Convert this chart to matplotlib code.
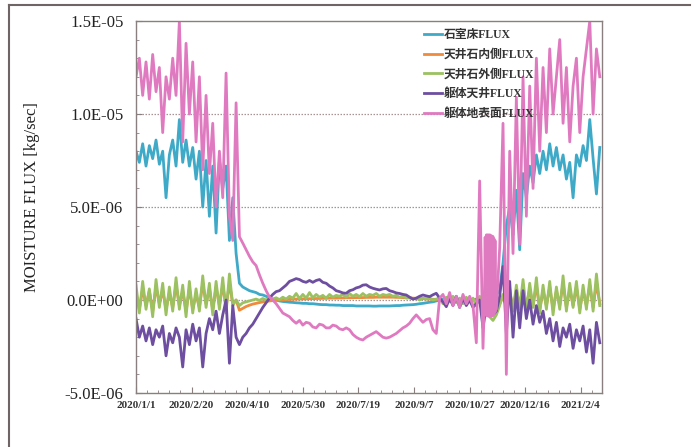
import numpy as np
import pandas as pd
import matplotlib
matplotlib.use("Agg")
import matplotlib.pyplot as plt
import matplotlib.dates as mdates
from matplotlib.lines import Line2D

# ---- data (moisture flux, unit 1E-06 kg/sec, sampled every 3 days from 2020/1/1) ----
start = pd.Timestamp("2020-01-01")
day_offsets = np.arange(0, 420, 3)
end_day = 419

floor_flux = [  # 石室床FLUX
    8.0, 7.4, 8.4, 7.2, 8.3, 7.6, 8.6, 7.3, 8.0, 5.5,
    7.8, 8.6, 7.2, 9.7, 7.4, 8.6, 7.2, 8.2, 6.5, 8.0,
    5.0, 7.5, 4.5, 7.2, 3.6, 7.5, 6.0, 7.2, 3.2, 5.5,
    2.5, 0.9, 0.7, 0.6, 0.5, 0.45, 0.4, 0.3, 0.27, 0.2,
    0.12, 0.05, 0.0, -0.05, -0.08, -0.1, -0.12, -0.13, -0.15, -0.16,
    -0.18, -0.18, -0.2, -0.2, -0.22, -0.24, -0.25, -0.25, -0.27, -0.27,
    -0.28, -0.28, -0.3, -0.3, -0.3, -0.3, -0.32, -0.32, -0.32, -0.32,
    -0.32, -0.33, -0.33, -0.32, -0.32, -0.32, -0.32, -0.31, -0.3, -0.3,
    -0.28, -0.27, -0.26, -0.25, -0.23, -0.2, -0.18, -0.15, -0.12, -0.1,
    -0.05, 0.0, 0.05, -0.05, 0.0, 0.05, -0.05, 0.0, 0.05, 0.0,
    -0.05, 0.0, 0.05, 0.0, -0.05, 0.0, 0.1, 0.0, 0.3, 0.5,
    2.0, 4.0, 5.0, 3.5, 5.9, 2.7, 6.8, 5.5, 7.2, 6.3,
    7.8, 6.8, 8.0, 7.0, 8.4, 7.2, 8.2, 7.0, 7.8, 6.5,
    7.4, 5.5, 7.8, 7.2, 8.3, 7.5, 9.7, 7.6, 5.7, 8.2,
]

ceiling_inner_flux = [  # 天井石内側FLUX
    0.4, -0.5, 0.6, -0.3, 0.5, -0.6, 0.7, -0.2, 0.5, -0.5,
    0.4, -0.4, 0.8, -0.3, 0.5, -0.6, 0.6, -0.5, 0.3, -0.4,
    0.9, -0.2, 0.6, -0.5, 0.7, -0.3, 0.8, -0.4, 0.9, -0.2,
    0.0, -0.55, -0.45, -0.35, -0.28, -0.22, -0.18, -0.14, -0.1, -0.08,
    -0.05, -0.03, -0.02, 0.0, 0.01, 0.02, 0.03, 0.04, 0.05, 0.05,
    0.06, 0.06, 0.07, 0.07, 0.08, 0.08, 0.09, 0.09, 0.1, 0.1,
    0.1, 0.11, 0.11, 0.12, 0.12, 0.12, 0.13, 0.13, 0.13, 0.14,
    0.14, 0.14, 0.15, 0.15, 0.15, 0.15, 0.15, 0.15, 0.14, 0.14,
    0.13, 0.12, 0.11, 0.1, 0.09, 0.08, 0.07, 0.06, 0.05, 0.04,
    0.03, 0.05, -0.05, 0.05, -0.05, 0.05, -0.05, 0.05, -0.05, 0.05,
    -0.05, 0.05, -0.1, 0.1, -0.2, -0.3, -0.4, -0.5, -0.4, -0.2,
    0.2, -0.3, 0.4, -0.4, 0.5, -0.3, 0.7, -0.4, 0.6, -0.3,
    0.8, -0.5, 0.5, -0.3, 0.7, -0.5, 0.5, -0.3, 0.9, -0.4,
    0.6, -0.3, 0.7, -0.5, 0.5, -0.3, 0.8, -0.4, 0.9, -0.2,
]

ceiling_outer_flux = [  # 天井石外側FLUX
    0.8, -0.7, 1.0, -0.5, 0.6, -0.9, 1.1, -0.4, 0.9, -0.8,
    0.7, -0.6, 1.2, -0.5, 0.8, -0.9, 1.0, -0.7, 0.6, -0.6,
    1.3, -0.4, 0.9, -0.8, 1.0, -0.5, 1.2, -0.7, 1.4, -0.3,
    0.0, -0.3, -0.15, -0.1, -0.05, 0.0, 0.05, -0.02, 0.08, 0.0,
    0.1, 0.05, 0.12, 0.02, 0.15, 0.05, 0.2, 0.1, 0.35, 0.08,
    0.3, 0.1, 0.4, 0.12, 0.3, 0.15, 0.25, 0.1, 0.3, 0.15,
    0.25, 0.2, 0.3, 0.15, 0.35, 0.2, 0.3, 0.18, 0.35, 0.2,
    0.3, 0.25, 0.35, 0.2, 0.3, 0.25, 0.3, 0.2, 0.25, 0.15,
    0.2, 0.1, 0.15, 0.05, 0.1, 0.0, 0.1, 0.05, 0.1, 0.0,
    0.05, 0.1, -0.2, 0.15, -0.1, 0.2, -0.15, 0.1, -0.2, 0.15,
    -0.1, 0.1, -0.3, 0.2, -0.4, -0.6, -0.9, -1.1, -0.8, -0.3,
    0.3, -0.4, 0.6, -0.6, 0.8, -0.5, 1.1, -0.6, 0.9, -0.4,
    1.2, -0.7, 0.8, -0.5, 1.0, -0.8, 0.7, -0.5, 1.3, -0.6,
    0.9, -0.4, 1.0, -0.7, 0.8, -0.5, 1.1, -0.6, 1.4, -0.3,
]

body_ceiling_flux = [  # 躯体天井FLUX
    -1.0, -2.0, -1.4, -2.2, -1.5, -2.4, -1.6, -2.0, -1.4, -3.0,
    -1.8, -2.3, -1.5, -2.0, -3.6, -1.6, -2.4, -1.3, -2.2, -1.5,
    -3.6, -1.8, -1.0, -1.6, -0.6, -1.8, -0.8, 0.0, -3.4, -0.3,
    -2.0, -2.4, -2.0, -1.8, -1.5, -1.3, -1.0, -0.7, -0.4, -0.15,
    0.1, 0.3, 0.45, 0.5, 0.65, 0.8, 1.0, 1.07, 1.15, 1.1,
    1.0, 0.95, 1.05, 0.95, 1.05, 1.1, 0.95, 0.9, 0.75, 0.65,
    0.5, 0.45, 0.38, 0.36, 0.5, 0.55, 0.65, 0.7, 0.8, 0.82,
    0.7, 0.63, 0.58, 0.54, 0.6, 0.62, 0.5, 0.45, 0.38, 0.35,
    0.3, 0.27, 0.15, 0.05, 0.1, 0.2, 0.27, 0.22, 0.18, 0.28,
    0.36, 0.1, -0.1, -0.36, 0.1, -0.3, 0.2, -0.4, 0.1, -0.3,
    0.0, -0.4, -0.2, 0.0, -1.5, -0.3, -0.5, -0.8, -0.6, 0.2,
    1.8, -1.8, 1.0, -2.0, 0.5, -1.5, 0.5, -1.0, 0.0, -1.3,
    -0.3, -1.2, -0.6, -1.8, -1.0, -2.2, -1.2, -2.5, -1.5, -2.0,
    -1.3, -2.6, -1.6, -2.2, -1.4, -2.8, -1.6, -3.4, -1.2, -2.3,
]

body_ground_flux = [  # 躯体地表面FLUX
    12.0, 13.0, 11.0, 12.8, 10.8, 13.2, 11.2, 12.5, 9.0, 12.0,
    10.8, 13.0, 11.0, 15.0, 8.5, 13.8, 10.0, 12.8, 8.5, 12.0,
    7.0, 11.0, 6.8, 9.5, 5.0, 8.0, 5.5, 12.2, 4.5, 3.2,
    10.6, 3.4, 3.06, 2.7, 2.35, 2.05, 1.85, 1.35, 0.9, 0.5,
    0.16, 0.0, -0.2, -0.45, -0.7, -0.8, -0.9, -1.1, -1.25, -1.1,
    -1.35, -1.2, -1.25, -1.45, -1.5, -1.3, -1.35, -1.5, -1.5, -1.35,
    -1.4, -1.55, -1.6, -1.5, -1.6, -1.85, -2.0, -2.1, -2.15, -2.0,
    -1.9, -1.8, -1.7, -1.85, -2.0, -2.05, -2.0, -1.9, -1.8, -1.65,
    -1.5, -1.4, -1.25, -1.0, -0.8, -1.0, -1.2, -1.05, -1.0, -1.6,
    -1.8, 0.1, 0.3, -0.2, 0.4, -0.3, 0.2, -0.4, 0.3, -0.2,
    0.2, -0.3, -2.3, 6.4, -2.6, 3.5, -0.9, 3.4, -0.5, 2.8,
    9.5, -4.0, 8.0, 2.5, 10.9, 3.0, 12.0, 4.5, 11.5, 6.0,
    13.0, 8.0, 12.5, 9.0, 13.5, 10.0, 12.0, 14.0, 9.5, 12.5,
    8.5, 11.5, 13.0, 9.0, 12.0, 13.5, 15.0, 10.0, 13.5, 12.0,
]

# rapid oscillation of 躯体地表面FLUX in November: upper / lower envelope
burst_days = [312, 315, 318, 321, 324]
burst_top = [3.4, 3.6, 3.6, 3.5, 3.2]
burst_bottom = [-0.8, -0.9, -0.9, -0.9, -0.6]

series_labels = ["石室床FLUX", "天井石内側FLUX", "天井石外側FLUX", "躯体天井FLUX", "躯体地表面FLUX"]
series_values = [floor_flux, ceiling_inner_flux, ceiling_outer_flux, body_ceiling_flux, body_ground_flux]
series_colors = ["#3fa9c8", "#f08a3c", "#9cc160", "#6e4ea0", "#e07ac0"]

xtick_days = [0, 50, 100, 150, 200, 250, 300, 350, 400]
xtick_labels = ["2020/1/1", "2020/2/20", "2020/4/10", "2020/5/30", "2020/7/19",
                "2020/9/7", "2020/10/27", "2020/12/16", "2021/2/4"]
ytick_values = [-5e-6, 0.0, 5e-6, 1e-5, 1.5e-5]
ytick_labels = ["-5.0E-06", "0.0E+00", "5.0E-06", "1.0E-05", "1.5E-05"]

UNIT = 1e-6

# ---- figure ----
W, H = 698, 447
fig = plt.figure(figsize=(W / 100, H / 100), dpi=100)
ax = fig.add_axes([136 / W, 1 - 393 / H, (602 - 136) / W, (393 - 21) / H])

to_date = lambda d: mdates.date2num(start + pd.to_timedelta(np.asarray(d), unit="D"))
x = to_date(day_offsets)

serif = ["Liberation Serif", "Noto Sans CJK JP", "DejaVu Sans"]

ax.fill_between(to_date(burst_days), np.array(burst_bottom) * UNIT, np.array(burst_top) * UNIT,
                color=series_colors[4], lw=0, zorder=2.5)
for k, (lab, vals, col) in enumerate(zip(series_labels, series_values, series_colors)):
    ax.plot(x, np.array(vals) * UNIT, color=col, lw=2.0, label=lab, zorder=2 + k * 0.1)

ax.set_xlim(to_date(0), to_date(end_day))
ax.set_ylim(-5e-6, 1.5e-5)

grid_col = "#a89494"
for yv in ytick_values[1:4]:
    ax.axhline(yv, color=grid_col, lw=0.9, ls=(0, (1.2, 1.2)), zorder=1)

ax.set_yticks(ytick_values)
ax.set_yticklabels(ytick_labels, fontfamily=serif, fontsize=12, color="#222222")
ax.set_yticks(np.arange(-5e-6, 1.5e-5, 1e-6), minor=True)
ax.set_xticks(to_date(xtick_days))
ax.set_xticklabels(xtick_labels, fontfamily=serif, fontsize=8, fontweight="bold", color="#333333")
ax.set_xticks(to_date(np.arange(0, end_day, 10)), minor=True)

ax.tick_params(axis="both", which="major", direction="in", length=4, color="#8a7f7f")
ax.tick_params(axis="both", which="minor", direction="in", length=2.5, color="#8a7f7f")
ax.tick_params(axis="y", pad=9)
ax.tick_params(axis="x", pad=6)
for s in ax.spines.values():
    s.set_color("#8a7f7f")
    s.set_linewidth(1.0)

fig.text(32 / W, 1 - 197 / H, "MOISTURE FLUX [kg/sec]", rotation=90, ha="center", va="center",
         fontfamily=serif, fontsize=12, color="#222222")

leg = ax.legend(loc="upper left", bbox_to_anchor=(424 / W, 1 - 29 / H),
                bbox_transform=fig.transFigure, frameon=False, borderpad=0, borderaxespad=0,
                handlelength=1.5, handletextpad=0.15, labelspacing=0.65,
                prop={"family": serif, "size": 8.5, "weight": "bold"})
for t in leg.get_texts():
    t.set_color("#333333")

# outer border of the panel
fig.add_artist(Line2D([9 / W, 690 / W], [1 - 5 / H, 1 - 5 / H], transform=fig.transFigure,
                      color="#6f6565", lw=1.5))
fig.add_artist(Line2D([9 / W, 9 / W], [1 - 5 / H, 0], transform=fig.transFigure,
                      color="#6f6565", lw=1.5))

fig.savefig("out.png", dpi=100)
